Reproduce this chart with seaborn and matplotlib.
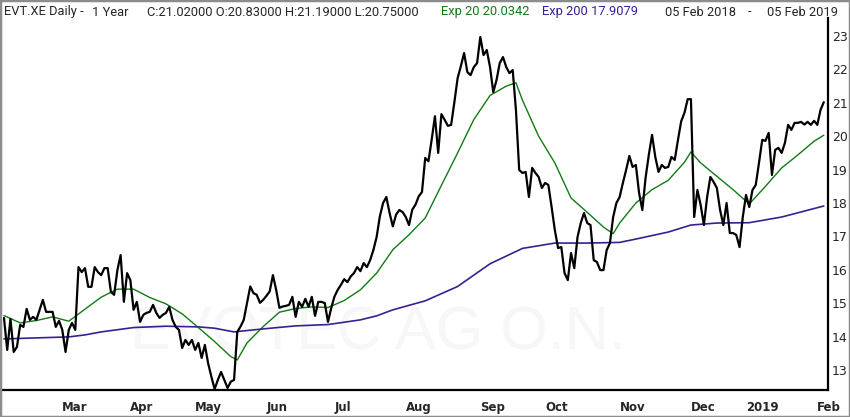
import matplotlib
matplotlib.use('Agg')
import matplotlib.pyplot as plt
import seaborn as sns
import pandas as pd
from matplotlib.patches import Rectangle

# Xetra trading calendar, 05 Feb 2018 - 05 Feb 2019
holidays = ['2018-03-30', '2018-04-02', '2018-05-01', '2018-12-24', '2018-12-25',
            '2018-12-26', '2018-12-31', '2019-01-01']
dates = pd.bdate_range('2018-02-05', '2019-02-05')
dates = dates[~dates.isin(pd.to_datetime(holidays))]

# daily close
close = [
    14.56, 13.6, 14.53, 13.54, 13.69, 14.35, 14.29, 14.83, 14.5, 14.59,
    14.5, 14.8, 15.1, 14.74, 14.74, 14.74, 14.29, 14.47, 14.2, 13.54,
    14.2, 14.41, 14.2, 16.08, 15.93, 16.05, 15.49, 15.49, 16.08, 15.93,
    15.84, 16.05, 16.05, 15.34, 15.25, 15.99, 16.44, 15.04, 15.9, 15.69,
    14.8, 15.04, 14.44, 14.65, 14.71, 14.74, 14.95, 14.71, 14.56, 14.65,
    14.71, 14.89, 14.5, 14.29, 14.2, 13.66, 13.9, 13.75, 13.9, 13.6,
    13.81, 13.36, 13.75, 13.2, 12.8, 12.43,
    12.7, 12.94, 12.7, 12.46, 12.65, 12.7, 14.14, 14.3, 14.5, 15.0,
    15.5, 15.3, 15.25, 15.01, 15.1, 15.22, 15.35, 15.84, 15.4, 14.86,
    14.9, 14.92, 14.95, 15.19, 14.59, 15.04, 14.89, 15.13, 14.89, 15.19,
    14.62, 15.04, 15.04, 15.0, 14.44, 14.86, 15.2, 15.4, 15.55, 15.72,
    15.63, 15.8, 15.9, 16.08, 15.96, 16.2, 16.08, 16.29, 16.59, 16.98,
    17.6, 18.0, 18.18, 17.7, 17.3, 17.65, 17.79, 17.73, 17.58, 17.34,
    17.8, 17.95, 18.2, 18.33, 19.35,
    19.25, 19.9, 20.6, 19.5, 20.66, 20.49, 20.31, 20.34, 21.02, 21.74,
    22.1, 22.49, 21.92, 21.83, 22.07, 22.19, 22.97, 22.43, 22.58, 22.07,
    21.32, 21.68, 22.19, 22.37, 22.07, 21.89, 21.98, 20.78, 18.99, 18.9,
    18.93, 18.18, 19.05, 18.9, 18.78, 18.45, 18.6, 18.54, 17.88, 17.19,
    16.65, 16.68, 15.9, 15.69, 16.5, 16.05, 16.98, 17.4, 17.7, 17.4,
    17.34, 16.29, 16.23, 15.99, 15.99, 16.59, 16.8, 17.58, 18.0, 18.18,
    18.6, 18.99, 19.41, 19.08, 19.14,
    18.3, 17.79, 18.75, 19.44, 20.04, 19.38, 18.93, 19.14, 19.05, 19.08,
    19.38, 19.29, 19.89, 20.45, 20.7, 21.11, 21.11, 17.58, 18.39, 17.94,
    17.34, 18.18, 18.78, 18.63, 18.45, 17.79, 17.34, 18.0, 17.1, 17.1,
    17.04, 16.68, 17.58, 18.24, 17.88, 18.39, 18.54, 19.2, 19.89, 19.86,
    20.1, 18.84, 19.59, 19.65, 19.5, 19.8, 20.34, 20.19, 20.4, 20.4,
    20.43, 20.35, 20.43, 20.34, 20.46, 20.34, 20.79, 21.02,
]

# Exp 20 (trading-day index, value)
ema20_day = [0, 5, 10, 15, 20, 25, 30, 35, 40, 45, 50, 55, 60, 65, 70, 72, 75, 80, 85,
             90, 95, 100, 105, 110, 115, 120, 125, 130, 135, 140, 145, 150, 155, 158,
             160, 165, 170, 175, 180, 185, 188, 190, 195, 200, 205, 210, 212, 215,
             220, 225, 230, 235, 240, 245, 250, 253]
ema20 = [14.63, 14.41, 14.48, 14.59, 14.46, 14.82, 15.18, 15.42, 15.42, 15.17, 14.98,
         14.68, 14.27, 13.85, 13.4, 13.3, 13.81, 14.3, 14.73, 14.84, 14.89, 14.87,
         15.08, 15.4, 15.9, 16.6, 17.05, 17.55, 18.53, 19.5, 20.5, 21.22, 21.5, 21.6,
         21.08, 20.0, 19.2, 18.15, 17.72, 17.28, 17.08, 17.4, 18.0, 18.4, 18.68,
         19.22, 19.53, 19.2, 18.8, 18.4, 17.97, 18.5, 19.05, 19.44, 19.85, 20.03]

# Exp 200
ema200_day = [0, 10, 20, 25, 30, 40, 50, 60, 65, 71, 80, 90, 100, 110, 115, 120, 130,
              140, 150, 160, 170, 180, 190, 195, 205, 212, 220, 230, 240, 253]
ema200 = [13.93, 13.96, 13.99, 14.05, 14.14, 14.27, 14.31, 14.29, 14.25, 14.14, 14.23,
          14.32, 14.36, 14.5, 14.62, 14.8, 15.07, 15.5, 16.18, 16.64, 16.8, 16.8,
          16.82, 16.92, 17.13, 17.34, 17.4, 17.41, 17.58, 17.91]

y_ticks = list(range(13, 24))

sns.set_style('white')
plt.rcParams['font.family'] = ['DejaVu Sans']

fig = plt.figure(figsize=(8.5, 4.17), dpi=100)
ax = fig.add_axes([3 / 850, 27 / 417, 825 / 850, 372 / 417])

# faint watermark
ax.text(0.455, 0.15, 'EVOTEC AG O.N.', transform=ax.transAxes, fontsize=44,
        color='#f7f7f7', ha='center', va='center', zorder=0,
        family=['Liberation Sans', 'DejaVu Sans'])

df = pd.DataFrame({'day': range(len(close)), 'close': close})
sns.lineplot(data=df, x='day', y='close', color='black', lw=1.6, ax=ax, zorder=3)
sns.lineplot(x=ema20_day, y=ema20, color='#137a13', lw=1.0, ax=ax, zorder=2)
sns.lineplot(x=ema200_day, y=ema200, color='#3a1f94', lw=1.2, ax=ax, zorder=2)

ax.set_xlim(-0.3, 254.3)
ax.set_ylim(12.4, 23.54)
ax.set_xlabel('')
ax.set_ylabel('')

# month ticks at first trading day of each month
pos = pd.Series(range(len(dates)), index=dates)
first = pos.groupby([dates.year, dates.month]).first().values[1:]
labels = [dates[i].strftime('%b') if dates[i].month != 1 else str(dates[i].year)
          for i in first]
ax.set_xticks(first)
ax.set_xticklabels(labels, ha='left', fontsize=8.5, fontweight='bold')
ax.tick_params(axis='x', direction='out', length=3.6, width=1.3, pad=4.5, color='black')

ax.yaxis.tick_right()
ax.set_yticks(y_ticks)
ax.set_yticklabels([str(v) for v in y_ticks], fontsize=9)
ax.tick_params(axis='y', length=0, pad=3)

for s in ['left', 'top']:
    ax.spines[s].set_visible(False)
for s in ['right', 'bottom']:
    ax.spines[s].set_linewidth(1.6)
    ax.spines[s].set_color('black')

# header line
head_font = ['Liberation Sans Narrow', 'Roboto', 'DejaVu Sans']
ty = 1 - 12 / 417
hk = dict(fontsize=9.3, va='center', family=head_font)
fig.text(4 / 850, ty, 'EVT.XE Daily -', ha='left', **hk)
fig.text(92 / 850, ty, '1 Year', ha='left', **hk)
fig.text(147 / 850, ty, 'C:21.02000 O:20.83000 H:21.19000 L:20.75000', ha='left', **hk)
fig.text(441 / 850, ty, 'Exp 20 20.0342', ha='left', color='#137a13', **hk)
fig.text(542 / 850, ty, 'Exp 200 17.9079', ha='left', color='#3a1f94', **hk)
fig.text(665 / 850, ty, '05 Feb 2018', ha='left', **hk)
fig.text(750 / 850, ty, '-', ha='center', **hk)
fig.text(838 / 850, ty, '05 Feb 2019', ha='right', **hk)

fig.patches.append(Rectangle((0, 0), 1, 1, transform=fig.transFigure, fill=False,
                             edgecolor='#8c8c8c', lw=2.5))

fig.savefig('out.png', dpi=100)
